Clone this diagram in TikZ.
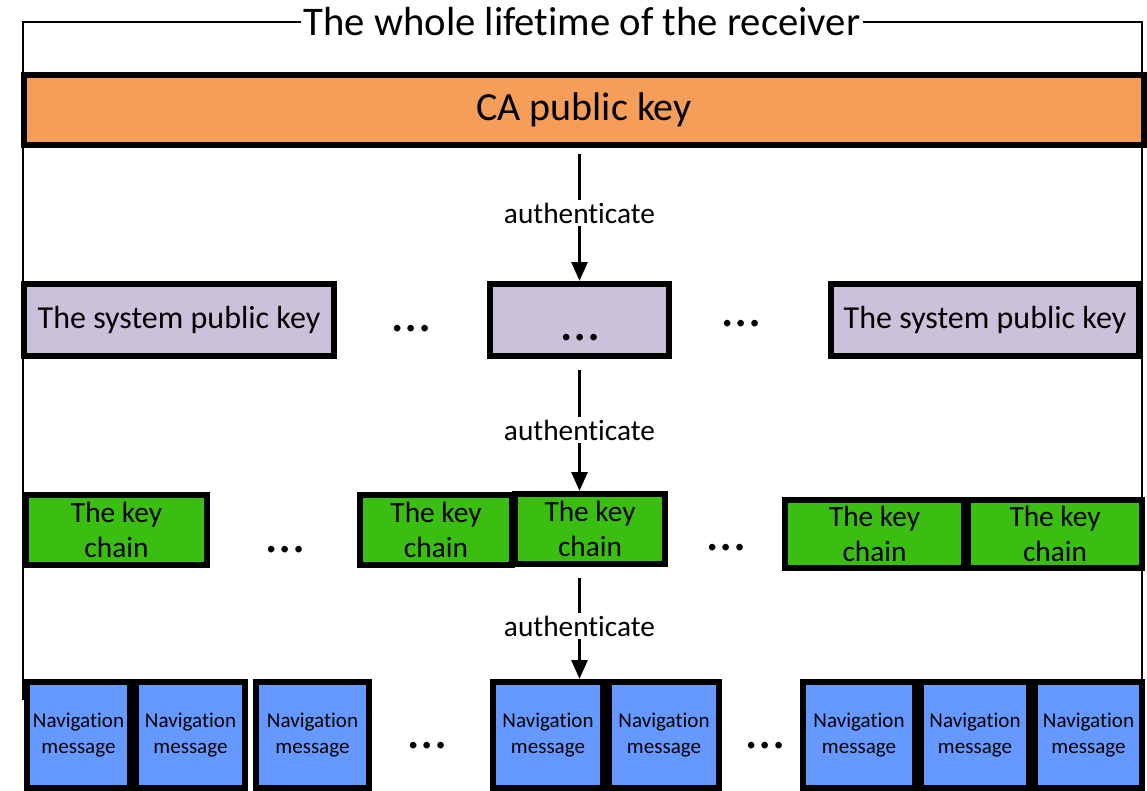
\documentclass[tikz,border=0pt]{standalone}
\usepackage{fontspec}
\setmainfont{Carlito}[Ligatures={NoCommon}]
\usetikzlibrary{arrows.meta}
\definecolor{caorange}{RGB}{244,158,90}
\definecolor{syspurple}{RGB}{204,193,218}
\definecolor{chaingreen}{RGB}{59,190,18}
\definecolor{navblue}{RGB}{102,153,255}
\begin{document}
\begin{tikzpicture}[x=0.75pt,y=-0.75pt,
  sz/.style 2 args={minimum width=#1*0.75pt,minimum height=#2*0.75pt},
  box/.style={draw=black,line width=4.8pt,inner sep=0pt,align=center},
  cabox/.style={box,fill=caorange,font=\fontsize{30}{36}\selectfont},
  sysbox/.style={box,fill=syspurple,font=\fontsize{24}{29}\selectfont},
  chainbox/.style={box,fill=chaingreen,font=\fontsize{22}{26.5}\selectfont},
  navbox/.style={box,fill=navblue,font=\fontsize{15.8}{19.5}\selectfont},
  frameline/.style={line width=2pt},
  auth/.style={-{Triangle[length=14pt,width=12pt]},line width=1.9pt},
  authlabel/.style={fill=white,inner sep=2pt,font=\fontsize{22}{26}\selectfont},
  dots/.style={anchor=base,inner sep=0pt,font=\fontsize{41}{48}\selectfont}]
\useasboundingbox (0,0) rectangle (1147,791);
% title and frame
\node[inner sep=2pt,font=\fontsize{30.5}{36}\selectfont] (title) at (582,22) {The whole lifetime of the receiver};
\coordinate (fbl) at (23,700);
\coordinate (fbr) at (1142,700);
\draw[frameline] (title.west) -| (fbl);
\draw[frameline] (title.east) -| (fbr);
% CA
\node[cabox,sz={1120}{70}] (ca) at (584,110) {CA public key};
% system public keys
\node[sysbox,sz={310}{72}] (p1) at (179,320) {The system public key};
\node[sysbox,sz={179}{72}] (p2) at (579.5,320) {};
\node[dots] (p2dots) at (580,341) {…};
\node[sysbox,sz={308}{72}] (p3) at (985,320) {The system public key};
\node[dots] (d1) at (411,332) {…};
\node[dots] (d2) at (741,327) {…};
% key chains
\node[chainbox,sz={181}{70}] (g1) at (116.5,530) {The key\\chain};
\node[chainbox,sz={152}{70}] (g2) at (436,530) {The key\\chain};
\node[chainbox,sz={150}{70}] (g3) at (590,529) {The key\\chain};
\node[chainbox,sz={179}{68}] (g4) at (874.5,534) {The key\\chain};
\node[chainbox,sz={174}{68}] (g5) at (1055,534) {The key\\chain};
\node[dots] (d3) at (285,553) {…};
\node[dots] (d4) at (726,551) {…};
% navigation messages
\node[navbox,sz={103}{106}] (b1) at (78.5,735) {Navigation\\message};
\node[navbox,sz={109}{106}] (b2) at (190.5,735) {Navigation\\message};
\node[navbox,sz={113}{106}] (b3) at (312.5,735) {Navigation\\message};
\node[navbox,sz={110}{106}] (b4) at (548,735) {Navigation\\message};
\node[navbox,sz={110}{106}] (b5) at (664,735) {Navigation\\message};
\node[navbox,sz={112}{106}] (b6) at (859,735) {Navigation\\message};
\node[navbox,sz={108}{106}] (b7) at (975,735) {Navigation\\message};
\node[navbox,sz={107}{106}] (b8) at (1088.5,735) {Navigation\\message};
\node[dots] (d5) at (427,748) {…};
\node[dots] (d6) at (765,748) {…};
% authenticate arrows
\draw[auth] ([yshift=-4pt]ca.south -| p2.north) -- node[authlabel,pos=0.47] (a1) {authenticate} (p2.north);
\draw[auth] ([yshift=-8pt]p2.south) -- node[authlabel,pos=0.5] (a2) {authenticate} (p2.south |- g3.north);
\draw[auth] ([yshift=-8pt]p2.south |- g3.south) -- node[authlabel,pos=0.48] (a3) {authenticate} (p2.south |- b4.north);
\end{tikzpicture}
\end{document}
